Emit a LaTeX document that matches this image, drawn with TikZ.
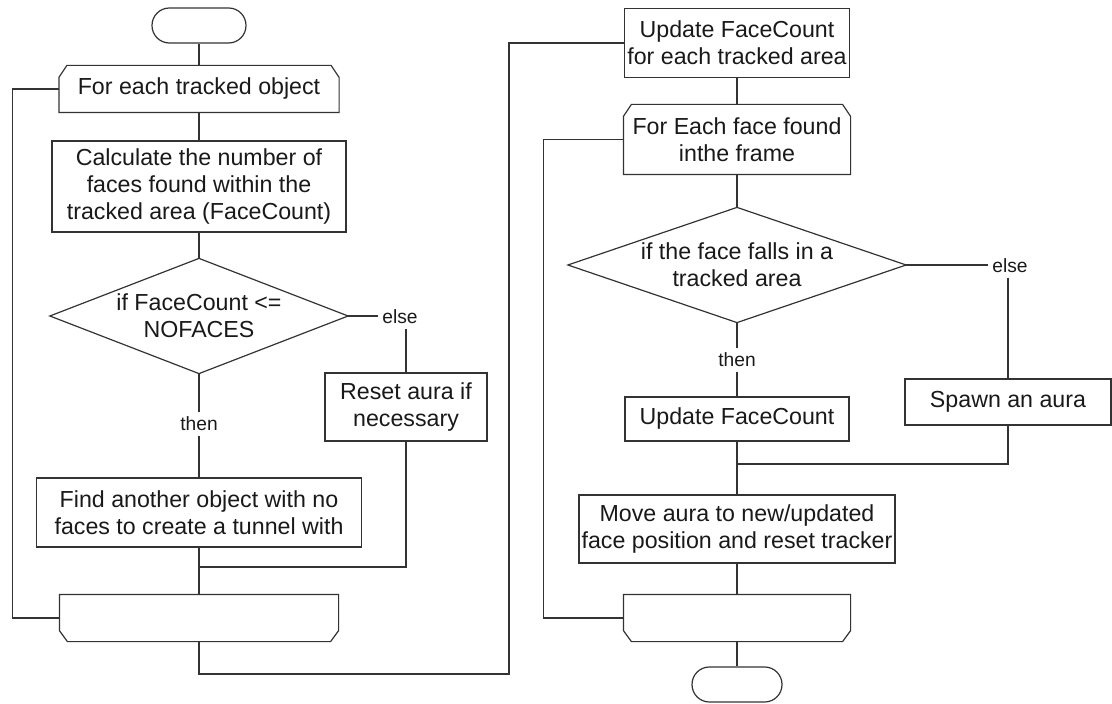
\documentclass[tikz,border=0pt]{standalone}
\usepackage{fontspec}
\setmainfont{Liberation Sans}
\usetikzlibrary{calc}
\newcommand\chamtop[1]{\draw ($(#1.north west)+(8,0)$) -- ($(#1.north east)+(-8,0)$) -- ($(#1.north east)+(0,12)$) -- (#1.south east) -- (#1.south west) -- ($(#1.north west)+(0,12)$) -- cycle;}
\newcommand\chambot[1]{\draw (#1.north west) -- (#1.north east) -- ($(#1.south east)+(0,-11)$) -- ($(#1.south east)+(-8,0)$) -- ($(#1.south west)+(8,0)$) -- ($(#1.south west)+(0,-11)$) -- cycle;}
\newcommand\diam[1]{\draw (#1.north) -- (#1.east) -- (#1.south) -- (#1.west) -- cycle;}
\begin{document}
\begin{tikzpicture}[x=0.5pt,y=-0.5pt,
  line width=0.6pt, draw=black!80, text=black!90,
  box/.style={draw, rectangle, inner sep=0pt, align=center, font=\fontsize{11.6}{13.5}\selectfont},
  plain/.style={rectangle, inner sep=0pt, align=center, font=\fontsize{11.6}{13.5}\selectfont},
  term/.style={draw, rectangle, rounded corners=8.7pt, minimum height=17.5pt, inner sep=0pt},
  lbl/.style={inner sep=2pt, font=\fontsize{9.6}{11}\selectfont}]
\useasboundingbox (0,0) rectangle (1112,704);
% ---------- left column ----------
\node[term, minimum width=47pt] (st1) at (199,25.5) {};
\node[plain, minimum width=139.5pt, minimum height=23pt] (ls1) at (199,89) {For each tracked object};
\chamtop{ls1}
\node[box, minimum width=147pt, minimum height=45.5pt] (calc) at (199,186.5) {Calculate the number of\\faces found within the\\tracked area (FaceCount)};
\node[plain, minimum width=148.5pt, minimum height=57pt] (d1) at (199,316) {if FaceCount <=\\NOFACES};
\diam{d1}
\node[lbl] (else1) at (400,317) {else};
\node[box, minimum width=81pt, minimum height=34pt] (reset) at (406,407) {Reset aura if\\necessary};
\node[lbl] (then1) at (199,424) {then};
\node[box, minimum width=162.5pt, minimum height=34.5pt] (find) at (199,512.5) {Find another object with no\\faces to create a tunnel with};
\coordinate (j1) at (199,567);
\node[plain, minimum width=139pt, minimum height=23pt] (le1) at (199,618) {};
\chambot{le1}
\coordinate (cB) at (509,674);
% ---------- right column ----------
\node[box, minimum width=112.5pt, minimum height=34.5pt] (upd) at (737,43) {Update FaceCount\\for each tracked area};
\node[plain, minimum width=113pt, minimum height=34.5pt] (ls2) at (737,139.5) {For Each face found\\inthe frame};
\chamtop{ls2}
\node[plain, minimum width=168.5pt, minimum height=57pt] (d2) at (737,265) {if the face falls in a\\tracked area};
\diam{d2}
\node[lbl] (else2) at (1010,266) {else};
\node[lbl] (then2) at (737,360) {then};
\node[box, minimum width=112pt, minimum height=22pt] (ufc) at (737,419) {Update FaceCount};
\node[box, minimum width=103pt, minimum height=23pt] (spawn) at (1008,402) {Spawn an aura};
\coordinate (j2) at (737,464);
\node[box, minimum width=158pt, minimum height=34pt] (move) at (737,529) {Move aura to new/updated\\face position and reset tracker};
\node[plain, minimum width=113pt, minimum height=23pt] (le2) at (737,618) {};
\chambot{le2}
\node[term, minimum width=45pt] (en) at (737,684.5) {};
% ---------- connectors ----------
\draw (st1) -- (ls1);
\draw (ls1) -- (calc);
\draw (calc) -- (d1.north);
\draw (d1.south) -- (then1);
\draw (then1) -- (find);
\draw (find) -- (j1) -- (le1);
\draw (reset.south) |- (j1);
\draw (d1.east) -- (d1.east -| else1.west);
\draw (else1.south -| reset.north) -- (reset.north);
\draw (le1.west) -- ++(-47,0) |- (ls1.west);
\draw (le1.south) |- (cB) |- (upd.west);
\draw (upd) -- (ls2);
\draw (ls2) -- (d2.north);
\draw (d2.south) -- (then2);
\draw (then2) -- (ufc);
\draw (ufc) -- (j2) -- (move);
\draw (spawn.south) |- (j2);
\draw (d2.east) -- (d2.east -| else2.west);
\draw (else2.south -| spawn.north) -- (spawn.north);
\draw (move) -- (le2);
\draw (le2) -- (en);
\draw (le2.west) -- ++(-80,0) |- (ls2.west);
\end{tikzpicture}
\end{document}
